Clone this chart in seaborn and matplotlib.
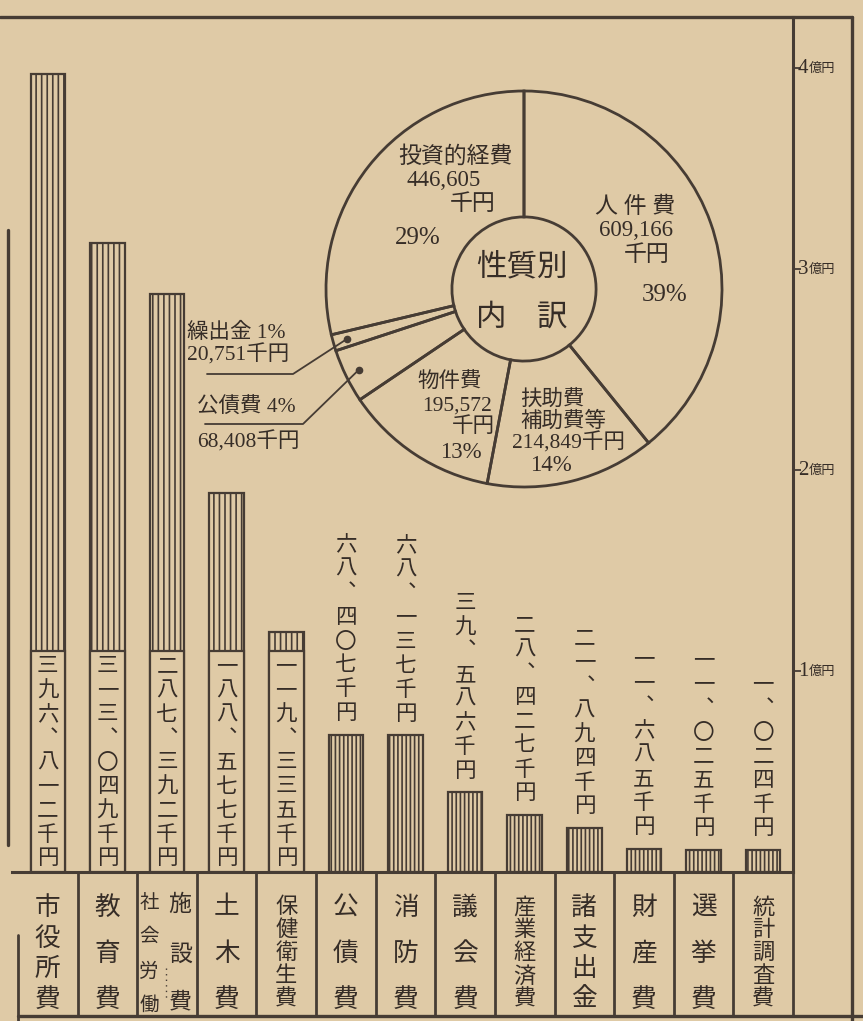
import numpy as np
import pandas as pd
import seaborn as sns
import matplotlib.pyplot as plt
from matplotlib.patches import Rectangle
from matplotlib.lines import Line2D
from matplotlib.transforms import offset_copy

# 目的別歳出 (千円)
categories = ["市役所費", "教育費", "社会労働施設費", "土木費", "保健衛生費", "公債費",
              "消防費", "議会費", "産業経済費", "諸支出金", "財産費", "選挙費", "統計調査費"]
amounts = [396812, 313049, 287392, 188577, 119335, 68407,
           68137, 39586, 28427, 21894, 11685, 11025, 1024]

# 性質別内訳 (千円)
pie_names = ["人件費", "扶助費補助費等", "物件費", "公債費", "繰出金", "投資的経費"]
pie_values = [609166, 214849, 195572, 68408, 20751, 446605]

# right-hand scale (億円)
scale_ticks = [100000, 200000, 300000, 400000]
scale_labels = ["1", "2", "3", "4"]

PAPER = "#dfcaa6"
INK = "#463c34"
TEXT = "#362d27"
W, H = 863, 1021


def fx(x):
    return x / W


def fy(y):
    return 1 - y / H


KANJI = "〇一二三四五六七八九"


def to_kanji(v):
    s = f"{v:,}"
    return "".join("︑" if c == "," else KANJI[int(c)] for c in s) + "千円"


sns.set_theme(style="white")
plt.rcParams["font.family"] = ["Liberation Serif", "Noto Sans CJK JP", "DejaVu Sans"]
plt.rcParams["hatch.color"] = INK
plt.rcParams["hatch.linewidth"] = 1.2

fig = plt.figure(figsize=(W / 100, H / 100), dpi=100, facecolor=PAPER)

# ---- bar chart -------------------------------------------------------------
ax = fig.add_axes([0, fy(872), fx(793), (872 - 17) / H])
ax.set_facecolor("none")

# the print draws the tiniest bars at a minimum visible height
shown = np.maximum(amounts, 11000)
df = pd.DataFrame({"cat": categories, "amount": shown})
sns.barplot(data=df, x="cat", y="amount", order=categories, width=0.58,
            color=PAPER, saturation=1, edgecolor=INK, linewidth=1.6, ax=ax)

ax.set_xlim(-0.802, 12.5)
ax.set_ylim(0, 425400)
ax.set_xlabel("")
ax.set_ylabel("")
ax.set_xticks([])
for s in ["left", "top"]:
    ax.spines[s].set_visible(False)
for s in ["right", "bottom"]:
    ax.spines[s].set_color(INK)
    ax.spines[s].set_linewidth(2.2)
ax.spines["bottom"].set_bounds(-0.6, 12.5)

bars = list(ax.patches)[:len(categories)]
for p, v, s in zip(bars, amounts, shown):
    p.set_hatch("|||" if v >= 100000 else "||||")
    xc = p.get_x() + p.get_width() / 2
    if v >= 100000:
        ax.add_patch(Rectangle((p.get_x(), 0), p.get_width(), min(110000, s),
                               facecolor=PAPER, edgecolor=INK, lw=1.6, zorder=3))
        base, start = 0, 12
    else:
        base, start = s, 20
    for k, ch in enumerate(reversed(to_kanji(v))):
        tr = offset_copy(ax.transData, fig=fig, x=0, y=start + 24 * k, units="dots")
        ax.text(xc, base, ch, transform=tr, ha="center", va="center",
                fontsize=15.5, color=TEXT, zorder=4)

ax.yaxis.tick_right()
ax.set_yticks(scale_ticks)
ax.set_yticklabels([])
ax.tick_params(axis="y", length=6, width=1.3, color=INK, direction="out")
for t, lab in zip(scale_ticks, scale_labels):
    ax.annotate(lab, xy=(1, t), xycoords=("axes fraction", "data"),
                xytext=(5, 0), textcoords="offset pixels", ha="left", va="center",
                fontsize=15, color=TEXT, annotation_clip=False)
    ax.annotate("億円", xy=(1, t), xycoords=("axes fraction", "data"),
                xytext=(16, -1), textcoords="offset pixels", ha="left", va="center",
                fontsize=9.5, color=TEXT, annotation_clip=False)

# ---- category table --------------------------------------------------------
tab = fig.add_axes([0, 0, fx(793), (H - 872) / H])
tab.set_xlim(ax.get_xlim())
tab.set_ylim(H, 872)
tab.axis("off")
for i in range(len(categories) + 1):
    y0 = 935 if i == 0 else 872
    tab.plot([i - 0.5, i - 0.5], [y0, 1016 if i else H], color=INK, lw=2.0,
             clip_on=False)

for i, name in enumerate(categories):
    if name == "社会労働施設費":
        for ch, y in zip("施設費", [905, 955, 1003]):
            tab.text(i + 0.22, y, ch, ha="center", va="center", fontsize=16.5, color=TEXT)
        for ch, y in zip("社会労働", [903, 937, 972, 1006]):
            tab.text(i - 0.3, y, ch, ha="center", va="center", fontsize=14, color=TEXT)
        tab.plot([i - 0.02, i - 0.02], [968, 998], color=INK, lw=1.0, ls=(0, (1, 3)))
        continue
    n = len(name)
    fs = 18.5 if n <= 4 else 16
    for ch, y in zip(name, np.linspace(908, 1000, n)):
        tab.text(i, y, ch, ha="center", va="center", fontsize=fs, color=TEXT)

# ---- frame lines -----------------------------------------------------------
frame = [([0, 852], [17, 17]),
         ([852, 852], [17, H]),
         ([18, W], [1016, 1016]),
         ([8, 8], [230, 845])]
for xs, ys in frame:
    fig.add_artist(Line2D([fx(x) for x in xs], [fy(y) for y in ys], color=INK,
                          lw=2.4, transform=fig.transFigure))

# ---- donut: 性質別内訳 -------------------------------------------------------
cx, cy, R = 524, 289, 198
axp = fig.add_axes([fx(cx - R), fy(cy + R), 2 * R / W, 2 * R / H])
axp.pie(pie_values, startangle=90, counterclock=False, radius=1,
        wedgeprops=dict(width=0.636, facecolor="none", edgecolor=INK, linewidth=2.0))
axp.set_xlim(-1, 1)
axp.set_ylim(-1, 1)
axp.axis("off")

total = sum(pie_values)
frac = np.array(pie_values) / total
pct = [f"{round(f * 100)}%" for f in frac]
ends = np.cumsum(frac)
mids = 90 - 360 * (ends - frac / 2)

KW = dict(color=TEXT, ha="center", va="center")


def ftext(x, y, s, size, **kw):
    opts = dict(KW)
    opts.update(kw)
    fig.text(fx(x), fy(y), s, fontsize=size, **opts)


ftext(522, 268, "性質別", 22)
ftext(522, 318, "内　訳", 22)

# 人件費
ftext(635, 207, "人 件 費", 16.5)
ftext(636, 230, f"{pie_values[0]:,}", 16.5)
ftext(647, 255, "千円", 16.5)
ftext(665, 295, pct[0], 18)
# 扶助費補助費等
ftext(552, 400, "扶助費", 15.5)
ftext(563, 422, "補助費等", 15.5)
ftext(568, 443, f"{pie_values[1]:,}千円", 15.5)
ftext(551, 465, pct[1], 16.5)
# 物件費
ftext(450, 382, "物件費", 15.5)
ftext(457, 406, f"{pie_values[2]:,}", 15.5)
ftext(473, 427, "千円", 15.5)
ftext(461, 453, pct[2], 16.5)
# 投資的経費
ftext(455, 157, "投資的経費", 16.5)
ftext(444, 180, f"{pie_values[5]:,}", 16.5)
ftext(473, 205, "千円", 16.5)
ftext(418, 238, pct[5], 18)

# callouts for the two thin slices
callouts = [(4, (187, 333), (187, 355), (207, 293, 374)),
            (3, (197, 408), (197, 442), (205, 303, 424))]
for j, (tx, ty), (vx, vy), (lx0, lx1, ly) in callouts:
    ftext(tx, ty, f"{pie_names[j]} {pct[j]}", 15.5, ha="left")
    ftext(vx, vy, f"{pie_values[j]:,}千円", 15.5, ha="left")
    a = np.deg2rad(mids[j])
    dx, dy = 0.93 * np.cos(a), 0.93 * np.sin(a)
    px, py = cx + R * dx, cy - R * dy
    fig.add_artist(Line2D([fx(lx0), fx(lx1), fx(px)], [fy(ly), fy(ly), fy(py)],
                          color=INK, lw=1.3, transform=fig.transFigure))
    fig.add_artist(Line2D([fx(px)], [fy(py)], marker="o", ms=4.5, color=INK,
                          transform=fig.transFigure))

fig.savefig("out.png", dpi=100, facecolor=PAPER)
